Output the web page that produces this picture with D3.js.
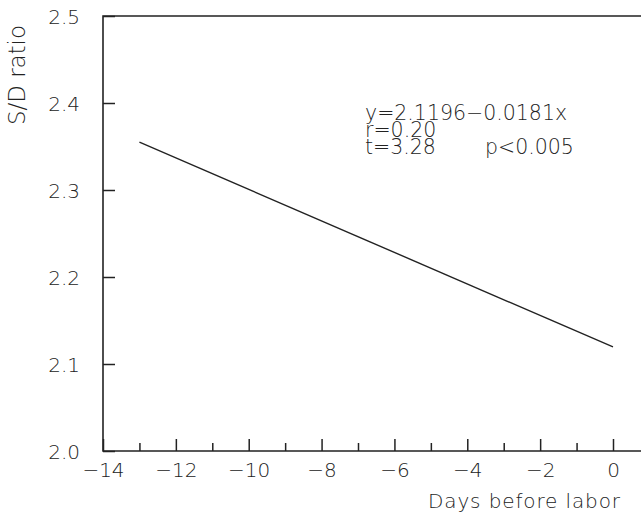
<!DOCTYPE html>
<html>
<head>
<meta charset="utf-8">
<script src="https://cdn.jsdelivr.net/npm/d3@7"></script>
<style>
  html, body { margin: 0; padding: 0; background: #fff; }
  svg { display: block; font-family: "DejaVu Sans", sans-serif; font-weight: 200; }
</style>
</head>
<body>
<div id="chart"></div>
<script>
// axis ticks
const xMajorTicks = [-14, -12, -10, -8, -6, -4, -2, 0];
const xMinorTicks = [-13, -11, -9, -7, -5, -3, -1];
const yTicks = [2.0, 2.1, 2.2, 2.3, 2.4, 2.5];

// regression line end points
const fitX = [-13, 0];
const fitY = [2.355, 2.1196];

// annotation text
const statLines = ["y=2.1196\u22120.0181x", "r=0.20", "t=3.28"];
const pText = "p<0.005";

const width = 641, height = 512;
const ink = "#222";

const svg = d3.select("#chart").append("svg")
  .attr("width", width)
  .attr("height", height);

// plot extends past the right edge of the image (cropped)
const x = d3.scaleLinear().domain([-14, 0]).range([103, 613]);
const y = d3.scaleLinear().domain([2.0, 2.5]).range([451, 16]);

// frame (right side falls outside the picture)
svg.append("path")
  .attr("d", `M${x(1)},${y(2.5)}H${x(-14)}V${y(2.0)}H${x(1)}`)
  .attr("fill", "none")
  .attr("stroke", ink)
  .attr("stroke-width", 1.6);

// x axis ticks pointing inward
const fmt = d => (d < 0 ? "\u2212" + Math.abs(d) : String(d));
const xAxis = d3.axisBottom(x).tickValues(xMajorTicks).tickSizeInner(-12).tickSizeOuter(0).tickPadding(16).tickFormat(fmt);
const gx = svg.append("g").attr("transform", `translate(0,${y(2.0)})`).call(xAxis);
gx.select(".domain").remove();
gx.selectAll(".tick line").attr("stroke", ink).attr("stroke-width", 1.5);
gx.selectAll(".tick text").attr("fill", ink).attr("font-size", 20).attr("font-family", "DejaVu Sans")
  .attr("dy", 0).attr("y", 26);

const gxm = svg.append("g").attr("transform", `translate(0,${y(2.0)})`)
  .call(d3.axisBottom(x).tickValues(xMinorTicks).tickSizeInner(-8).tickSizeOuter(0).tickFormat(""));
gxm.select(".domain").remove();
gxm.selectAll(".tick line").attr("stroke", ink).attr("stroke-width", 1.5);

// y axis ticks pointing inward
const yAxis = d3.axisLeft(y).tickValues(yTicks).tickSizeInner(-12).tickSizeOuter(0).tickFormat(d3.format(".1f"));
const gy = svg.append("g").attr("transform", `translate(${x(-14)},0)`).call(yAxis);
gy.select(".domain").remove();
gy.selectAll(".tick line").attr("stroke", ink).attr("stroke-width", 1.5);
gy.selectAll(".tick text").attr("fill", ink).attr("font-size", 20).attr("font-family", "DejaVu Sans")
  .attr("x", -23).attr("dy", "0.36em");

// regression line
svg.append("path")
  .datum(fitX.map((d, i) => [d, fitY[i]]))
  .attr("d", d3.line().x(d => x(d[0])).y(d => y(d[1])))
  .attr("fill", "none")
  .attr("stroke", ink)
  .attr("stroke-width", 1.4);

// axis titles
svg.append("text")
  .attr("transform", "translate(25,125) rotate(-90)")
  .attr("font-size", 23)
  .attr("fill", ink)
  .attr("textLength", 100)
  .attr("lengthAdjust", "spacing")
  .text("S/D ratio");

svg.append("text")
  .attr("x", 428).attr("y", 508)
  .attr("font-size", 20)
  .attr("fill", ink)
  .attr("textLength", 192)
  .attr("lengthAdjust", "spacing")
  .text("Days before labor");

// stats block, one text element with a tspan per line
const ann = svg.append("text").attr("fill", ink).attr("font-size", 20.5);
ann.selectAll("tspan.stat").data(statLines).join("tspan")
  .attr("class", "stat")
  .attr("x", 365)
  .attr("y", (d, i) => 120 + i * 17)
  .text(d => d);
ann.append("tspan").attr("x", 485).attr("y", 154).text(pText);
</script>
</body>
</html>
